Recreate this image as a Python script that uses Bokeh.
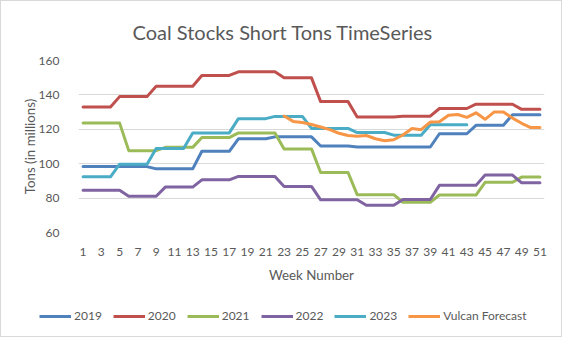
from bokeh.plotting import figure
from bokeh.models import Range1d, FixedTicker, Legend, LegendItem, Title
from bokeh.embed import file_html
from bokeh.resources import INLINE

title_text = "Coal Stocks Short Tons TimeSeries"
x_title = "Week Number"
y_title = "Tons (in millions)"

weeks = [1, 2, 3, 4, 5, 6, 7, 8, 9, 10, 11, 12, 13, 14, 15, 16, 17, 18, 19, 20,
         21, 22, 23, 24, 25, 26, 27, 28, 29, 30, 31, 32, 33, 34, 35, 36, 37, 38,
         39, 40, 41, 42, 43, 44, 45, 46, 47, 48, 49, 50, 51]
tick_weeks = [1, 3, 5, 7, 9, 11, 13, 15, 17, 19, 21, 23, 25, 27, 29, 31, 33, 35,
              37, 39, 41, 43, 45, 47, 49, 51]
y_ticks = [60, 80, 100, 120, 140, 160]

s2019 = [98.3, 98.3, 98.3, 98.3, 98.3, 98.3, 98.3, 98.3, 97.0, 97.0, 97.0, 97.0, 97.0,
         107.2, 107.2, 107.2, 107.2, 114.5, 114.5, 114.5, 114.5,
         115.6, 115.6, 115.6, 115.6, 115.6, 110.3, 110.3, 110.3, 110.3,
         109.7, 109.7, 109.7, 109.7, 109.7, 109.7, 109.7, 109.7, 109.7,
         117.4, 117.4, 117.4, 117.4, 122.3, 122.3, 122.3, 122.3, 128.5, 128.5, 128.5, 128.5]
s2020 = [133.0, 133.0, 133.0, 133.0, 139.0, 139.0, 139.0, 139.0, 145.0, 145.0, 145.0, 145.0, 145.0,
         151.3, 151.3, 151.3, 151.3, 153.4, 153.4, 153.4, 153.4, 153.4,
         149.9, 149.9, 149.9, 149.9, 136.1, 136.1, 136.1, 136.1,
         127.2, 127.2, 127.2, 127.2, 127.2, 127.6, 127.6, 127.6, 127.6,
         132.1, 132.1, 132.1, 132.1, 134.6, 134.6, 134.6, 134.6, 134.6, 131.6, 131.6, 131.6]
s2021 = [123.6, 123.6, 123.6, 123.6, 123.6, 107.6, 107.6, 107.6, 107.6, 109.5, 109.5, 109.5, 109.5,
         115.2, 115.2, 115.2, 115.2, 117.9, 117.9, 117.9, 117.9, 117.9,
         108.6, 108.6, 108.6, 108.6, 94.9, 94.9, 94.9, 94.9,
         82.0, 82.0, 82.0, 82.0, 82.0, 77.6, 77.6, 77.6, 77.6,
         81.8, 81.8, 81.8, 81.8, 81.8, 89.2, 89.2, 89.2, 89.2, 92.2, 92.2, 92.2]
s2022 = [84.5, 84.5, 84.5, 84.5, 84.5, 81.1, 81.1, 81.1, 81.1, 86.4, 86.4, 86.4, 86.4,
         90.6, 90.6, 90.6, 90.6, 92.6, 92.6, 92.6, 92.6, 92.6,
         86.8, 86.8, 86.8, 86.8, 79.0, 79.0, 79.0, 79.0, 79.0,
         75.8, 75.8, 75.8, 75.8, 79.2, 79.2, 79.2, 79.2,
         87.4, 87.4, 87.4, 87.4, 87.4, 93.4, 93.4, 93.4, 93.4, 88.9, 88.9, 88.9]
weeks2023 = [1, 2, 3, 4, 5, 6, 7, 8, 9, 10, 11, 12, 13, 14, 15, 16, 17, 18, 19, 20,
             21, 22, 23, 24, 25, 26, 27, 28, 29, 30, 31, 32, 33, 34, 35, 36, 37, 38,
             39, 40, 41, 42, 43]
s2023 = [92.4, 92.4, 92.4, 92.4, 99.7, 99.7, 99.7, 99.7, 108.8, 108.8, 108.8, 108.8,
         117.9, 117.9, 117.9, 117.9, 117.9, 126.2, 126.2, 126.2, 126.2,
         127.5, 127.5, 127.5, 127.5, 120.5, 120.5, 120.5, 120.5, 120.5,
         118.1, 118.1, 118.1, 118.1, 116.6, 116.6, 116.6, 116.6,
         122.7, 122.7, 122.7, 122.7, 122.7]
weeks_fc = [23, 24, 25, 26, 27, 28, 29, 30, 31, 32, 33, 34, 35, 36, 37, 38, 39, 40,
            41, 42, 43, 44, 45, 46, 47, 48, 49, 50, 51]
forecast = [127.7, 124.6, 123.9, 122.8, 121.3, 119.8, 117.7, 116.4, 116.0, 116.4,
            114.5, 113.3, 113.9, 116.7, 120.5, 119.8, 124.2, 124.4, 128.2, 128.6,
            126.9, 129.6, 125.8, 130.1, 130.1, 126.5, 123.5, 121.0, 121.0]

series_names = ["2019", "2020", "2021", "2022", "2023", "Vulcan Forecast"]
colors = ["#4F81BD", "#C0504D", "#9BBB59", "#8064A2", "#4BACC6", "#F79646"]

FONT = "Lato"
TXT = "#595959"
BORDER = "1px solid #d9d9d9"

p = figure(width=562, height=300, output_backend="svg", toolbar_location=None,
           title=None,
           x_range=Range1d(0.5, 51.5), y_range=Range1d(60, 160),
           min_border_left=77, min_border_right=19, min_border_top=55,
           min_border_bottom=69)
p.styles = {"border-left": BORDER, "border-right": BORDER, "border-top": BORDER}
p.outline_line_color = None
p.background_fill_color = "white"
p.border_fill_color = "white"

p.xgrid.visible = False
p.ygrid.grid_line_color = "#d9d9d9"
p.ygrid.grid_line_width = 1

p.xaxis.ticker = FixedTicker(ticks=tick_weeks)
p.yaxis.ticker = FixedTicker(ticks=y_ticks)
for ax in (p.xaxis[0], p.yaxis[0]):
    ax.axis_line_color = None
    ax.major_tick_line_color = None
    ax.minor_tick_line_color = None
    ax.major_label_text_font = FONT
    ax.major_label_text_font_size = "12px"
    ax.major_label_text_color = TXT
    ax.axis_label_text_font = FONT
    ax.axis_label_text_font_size = "13.3px"
    ax.axis_label_text_font_style = "normal"
    ax.axis_label_text_color = TXT
p.xaxis.axis_label = x_title
p.yaxis.axis_label = y_title
p.xaxis.major_label_standoff = 9
p.xaxis.axis_label_standoff = 8
p.yaxis.major_label_standoff = 13
p.yaxis.axis_label_standoff = -2

data = [(weeks, s2019), (weeks, s2020), (weeks, s2021), (weeks, s2022),
        (weeks2023, s2023), (weeks_fc, forecast)]
for (xs, ys), c in zip(data, colors):
    p.line(xs, ys, line_color=c, line_width=3, line_join="round", line_cap="round")

title = Title(text=title_text, align="left", offset=54, standoff=33,
              text_font=FONT, text_font_size="20px", text_font_style="normal",
              text_color=TXT)
p.add_layout(title, "above")

# legend strip below the chart (its own lines lie outside its visible range)
q = figure(width=562, height=37, output_backend="svg", toolbar_location=None,
           title=None, x_range=Range1d(-10, -9), y_range=Range1d(0, 1),
           x_axis_location=None, y_axis_location=None,
           min_border=0, min_border_left=0, min_border_right=0,
           min_border_top=0, min_border_bottom=0)
q.styles = {"border-left": BORDER, "border-right": BORDER, "border-bottom": BORDER}
q.grid.visible = False
q.outline_line_color = None
q.border_fill_color = "white"
q.background_fill_color = "white"
legend_renderers = [q.line(xs, ys, line_color=c, line_width=3)
                    for (xs, ys), c in zip(data, colors)]
legend = Legend(items=[LegendItem(label=n, renderers=[r]) for n, r in zip(series_names, legend_renderers)],
                orientation="horizontal", location=(38, 14),
                glyph_width=32, glyph_height=12, label_standoff=3, spacing=11,
                padding=0, margin=0, border_line_color=None, background_fill_alpha=0,
                label_text_font=FONT, label_text_font_size="12px", label_text_color=TXT)
q.add_layout(legend, "center")

open("out.html", "w").write(file_html([p, q], INLINE))
